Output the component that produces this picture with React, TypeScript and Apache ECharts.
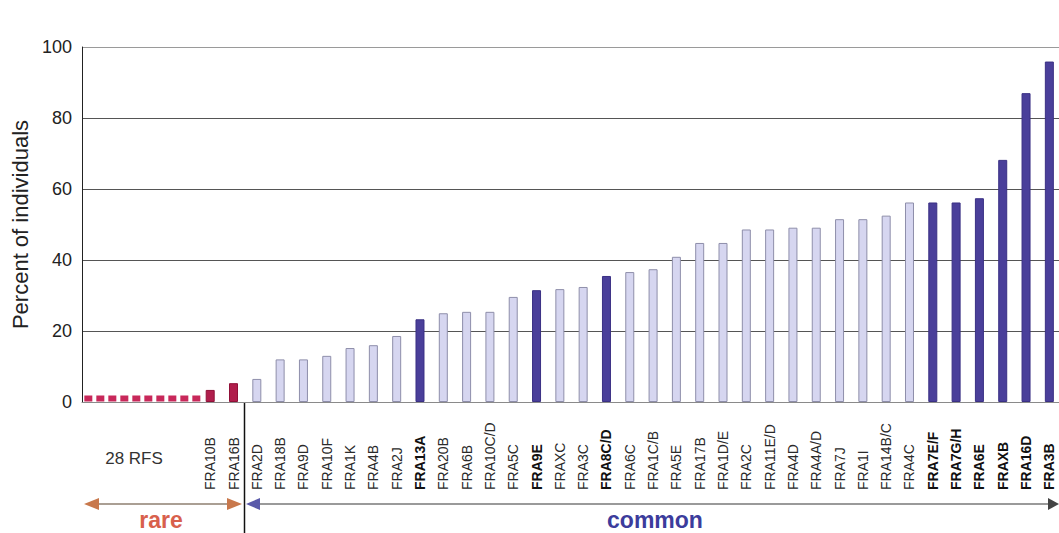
import React, { useEffect, useRef } from "react";
import * as echarts from "echarts";

// ---- data ----
const rfsSlots = ["", "", "", "", ""]; // space occupied by the 28 rare fragile sites
const rfsLabel = "28 RFS";
const rfsSpan = [0.1, 5.1]; // in slot units on the hidden value axis
const rfsLevel = 1;

const rareNames = ["FRA10B", "FRA16B"];
const rareValues = [3.4, 5.3];

const commonNames = [
  "FRA2D", "FRA18B", "FRA9D", "FRA10F", "FRA1K", "FRA4B", "FRA2J", "FRA13A",
  "FRA20B", "FRA6B", "FRA10C/D", "FRA5C", "FRA9E", "FRAXC", "FRA3C", "FRA8C/D",
  "FRA6C", "FRA1C/B", "FRA5E", "FRA17B", "FRA1D/E", "FRA2C", "FRA11E/D", "FRA4D",
  "FRA4A/D", "FRA7J", "FRA1I", "FRA14B/C", "FRA4C", "FRA7E/F", "FRA7G/H", "FRA6E",
  "FRAXB", "FRA16D", "FRA3B",
];
const commonValues = [
  6.5, 12, 12, 13, 15.2, 16, 18.6, 23.3,
  25, 25.4, 25.4, 29.6, 31.5, 31.8, 32.4, 35.5,
  36.6, 37.4, 40.9, 44.8, 44.8, 48.6, 48.6, 49.1,
  49.1, 51.5, 51.5, 52.5, 56.2, 56.2, 56.2, 57.4,
  68.2, 87, 95.9,
];
const boldNames = [
  "FRA13A", "FRA9E", "FRA8C/D", "FRA7E/F", "FRA7G/H", "FRA6E", "FRAXB", "FRA16D", "FRA3B",
];

const yTicks = [0, 20, 40, 60, 80, 100];

const FONT = "'Liberation Sans', Arial, Helvetica, sans-serif";

export default function App() {
  const ref = useRef<HTMLDivElement>(null);

  useEffect(() => {
    if (!ref.current) return;
    const chart = echarts.init(ref.current, null, { renderer: "svg" });

    const categories = [...rfsSlots, ...rareNames, ...commonNames];

    const barData: any[] = [
      ...rfsSlots.map(() => "-"),
      ...rareValues.map((v) => ({
        value: v,
        itemStyle: { color: "#b01e4c", borderColor: "#901038", borderWidth: 1 },
      })),
      ...commonValues.map((v, i) => {
        const bold = boldNames.includes(commonNames[i]);
        return {
          value: v,
          itemStyle: bold
            ? { color: "#4a3f9a", borderColor: "#3a3084", borderWidth: 1 }
            : { color: "#d6d6f0", borderColor: "#8e8eaa", borderWidth: 1 },
        };
      }),
    ];

    const option: any = {
      animation: false,
      grid: {
        left: 82,
        top: 47,
        width: 979,
        bottom: 131,
        containLabel: false,
        outerBoundsMode: "none",
      },
      xAxis: [
        {
          type: "category",
          data: categories,
          boundaryGap: true,
          axisLine: { show: true, lineStyle: { color: "#8a8a8a", width: 1 } },
          axisTick: { show: false },
          splitLine: { show: false },
          axisLabel: {
            interval: 0,
            rotate: 90,
            margin: 88,
            align: "left",
            fontFamily: FONT,
            fontSize: 14,
            color: "#333",
            formatter: (v: string) =>
              v === "" ? "" : boldNames.includes(v) ? `{b|${v}}` : `{n|${v}}`,
            rich: {
              b: { fontWeight: "bold", color: "#111", fontSize: 14, fontFamily: FONT },
              n: { color: "#2a2a2a", fontSize: 14, fontFamily: FONT },
            },
          },
        },
        {
          type: "value",
          min: 0,
          max: categories.length,
          show: false,
        },
      ],
      yAxis: {
        type: "value",
        min: yTicks[0],
        max: yTicks[yTicks.length - 1],
        interval: 20,
        name: "Percent of individuals",
        nameLocation: "middle",
        nameRotate: 90,
        nameGap: 50,
        nameTextStyle: { fontFamily: FONT, fontSize: 22, color: "#222" },
        axisLine: { show: true, lineStyle: { color: "#222", width: 1 } },
        axisTick: { show: false },
        axisLabel: { fontFamily: FONT, fontSize: 18, color: "#222", margin: 10 },
        splitLine: {
          show: true,
          lineStyle: { color: ["#888", "#555", "#555", "#555", "#555", "#9a9a9a"], width: 1.2 },
        },
      },
      series: [
        {
          type: "bar",
          xAxisIndex: 0,
          barWidth: 9,
          data: barData,
        },
        {
          type: "line",
          xAxisIndex: 1,
          symbol: "none",
          data: rfsSpan.map((x) => [x, rfsLevel]),
          lineStyle: { color: "#c8285a", width: 6, type: [8, 4], cap: "butt" },
          z: 3,
        },
      ],
      graphic: [
        {
          type: "text",
          style: {
            text: rfsLabel,
            x: 134,
            y: 458,
            align: "center",
            verticalAlign: "middle",
            fontFamily: FONT,
            fontSize: 17,
            fill: "#333",
          },
        },
        {
          type: "line",
          shape: { x1: 244.5, y1: 403, x2: 244.5, y2: 533 },
          style: { stroke: "#111", lineWidth: 1.5 },
        },
        // rare arrow
        {
          type: "line",
          shape: { x1: 96, y1: 504, x2: 230, y2: 504 },
          style: { stroke: "#aa9f94", lineWidth: 2 },
        },
        {
          type: "polygon",
          shape: { points: [[84, 504], [99, 498], [99, 510]] },
          style: { fill: "#c8784c" },
        },
        {
          type: "polygon",
          shape: { points: [[242, 504], [227, 498], [227, 510]] },
          style: { fill: "#c8784c" },
        },
        // common arrow
        {
          type: "line",
          shape: { x1: 258, y1: 504, x2: 1050, y2: 504 },
          style: { stroke: "#9a9a9a", lineWidth: 2 },
        },
        {
          type: "polygon",
          shape: { points: [[246, 504], [260, 498], [260, 510]] },
          style: { fill: "#5a5aaa" },
        },
        {
          type: "polygon",
          shape: { points: [[1059, 504], [1048, 498], [1048, 510]] },
          style: { fill: "#444" },
        },
        {
          type: "text",
          style: {
            text: "rare",
            x: 161,
            y: 520,
            align: "center",
            verticalAlign: "middle",
            fontFamily: FONT,
            fontSize: 23,
            fontWeight: "bold",
            fill: "#d8604c",
          },
        },
        {
          type: "text",
          style: {
            text: "common",
            x: 655,
            y: 520,
            align: "center",
            verticalAlign: "middle",
            fontFamily: FONT,
            fontSize: 23,
            fontWeight: "bold",
            fill: "#3c3c9c",
          },
        },
      ],
    };

    chart.setOption(option);
    return () => chart.dispose();
  }, []);

  return (
    <div
      ref={ref}
      style={{ position: "fixed", left: 0, top: 0, width: 1059, height: 533, background: "#fff" }}
    />
  );
}
